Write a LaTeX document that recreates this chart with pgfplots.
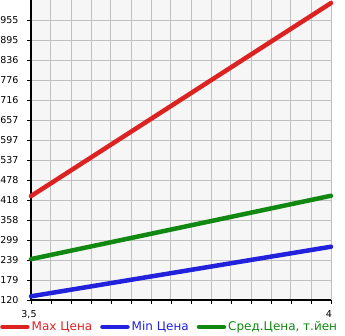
\documentclass[border=0pt]{standalone}
\usepackage{pgfplots}
\pgfplotsset{compat=1.18}
\usepackage{fontspec}
\setmainfont{DejaVu Sans}
\definecolor{cred}{HTML}{DD2222}
\definecolor{cblue}{HTML}{2222DD}
\definecolor{cgreen}{HTML}{118811}
\definecolor{bgc}{HTML}{F6F6F6}
\definecolor{gridc}{HTML}{C0C0C0}
\begin{document}
\begin{tikzpicture}
\useasboundingbox (0,0) rectangle (345pt,335pt);
\begin{axis}[
  at={(31pt,35pt)}, anchor=south west,
  scale only axis, width=300pt, height=300pt,
  xmin=3.5, xmax=4, ymin=120, ymax=1015,
  axis lines=left,
  axis line style={-, line width=2.5pt, black},
  axis background/.style={fill=bgc},
  xtick={3.5,4}, xticklabels={3{,}5,4},
  minor xtick={3.53333,3.56667,3.6,3.63333,3.66667,3.7,3.73333,3.76667,3.8,3.83333,3.86667,3.9,3.93333,3.96667},
  ytick={120,179.67,239.33,299,358.67,418.33,478,537.67,597.33,657,716.67,776.33,836,895.67,955.33},
  yticklabels={120,179,239,299,358,418,478,537,597,657,716,776,836,895,955},
  grid=both,
  major grid style={gridc, line width=1pt},
  minor grid style={gridc, line width=1pt},
  tick align=outside,
  major tick length=4pt, minor tick length=4pt,
  tick style={black, line width=0.8pt},
  ticklabel style={font=\fontsize{9.5}{10}\selectfont},
  yticklabel style={xshift=-5pt},
  xticklabel style={yshift=-3pt, xshift=-2pt},
  clip=false,
  legend style={at={(axis description cs:-0.1033,-0.09)}, anchor=west, draw=none, fill=none, inner sep=0pt,
    legend columns=3, font=\fontsize{12}{14}\selectfont,
    /tikz/every even column/.append style={column sep=6pt}},
  legend image code/.code={\path (0,0) -- (25pt,0); \draw[#1, line width=4.5pt, line cap=round] (2.3pt,0) -- (19.7pt,0);},
]
\addplot[cred, line width=4.5pt, line cap=round] coordinates {(3.5,430) (4,1006)};
\addlegendentry{\textcolor{cred}{Max Цена}}
\addplot[cblue, line width=4.5pt, line cap=round] coordinates {(3.5,131) (4,279)};
\addlegendentry{\textcolor{cblue}{Min Цена}}
\addplot[cgreen, line width=4.5pt, line cap=round] coordinates {(3.5,242) (4,431)};
\addlegendentry{\textcolor{cgreen}{Сред.Цена, т.йен}}
\end{axis}
\end{tikzpicture}
\end{document}
